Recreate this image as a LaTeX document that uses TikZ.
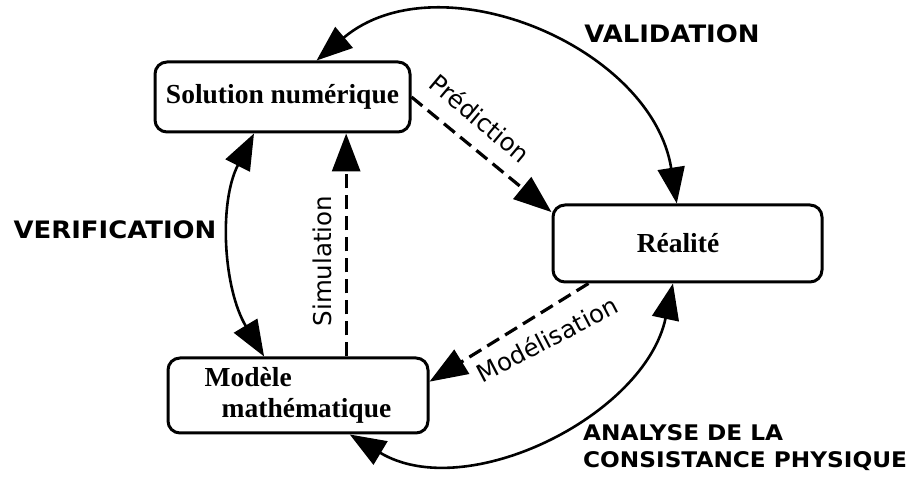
\documentclass[tikz,border=0pt]{standalone}
\usepackage{fontspec}
\setmainfont{Liberation Serif}
\newfontfamily\sansfont{DejaVu Sans}
\newfontfamily\sansw[FakeStretch=1.08]{DejaVu Sans}
\usetikzlibrary{arrows.meta,calc}
\tikzset{
  box/.style={draw, line width=3pt, rounded corners=12pt, inner sep=0pt,
    font=\bfseries\fontsize{27.5}{31}\selectfont},
  cyc/.style={line width=2.6pt,
    {Triangle[length=36pt,width=27pt]}-{Triangle[length=36pt,width=27pt]}},
  dasharrow/.style={line width=3.2pt, dash pattern=on 14pt off 7pt,
    -{Triangle[length=38pt,width=28pt]}},
  lbl/.style={font=\sansfont\fontsize{24.5}{28}\selectfont, inner sep=0pt},
  big/.style={font=\sansw\bfseries\fontsize{24}{27}\selectfont, inner sep=0pt},
}
\begin{document}
\begin{tikzpicture}[x=1pt,y=1pt]
\useasboundingbox (0,0) rectangle (914,481);
\node[box, minimum width=255pt, minimum height=70pt] (sol) at (282.5,384) {Solution numérique};
\node[box, minimum width=269pt, minimum height=77pt] (real) at (687.5,237.5) {\hspace*{-19pt}Réalité};
\node[box, minimum width=260pt, minimum height=75pt, align=left] (mod) at (298,85.5) {Modèle\\\hspace*{17pt}mathématique};

\draw[cyc] (sol.47) to[out=40,in=99,looseness=1.05] (real.105);
\draw[cyc] (sol.232) to[out=243,in=121,looseness=0.9] (mod.131);
\draw[cyc] (mod.-37) to[out=-31,in=258,looseness=0.97] (real.250);

\draw[dasharrow] (sol.east) -- (real.167);
\draw[dasharrow] (mod.39) -- (mod.39 |- sol.south);
\draw[dasharrow] (real.202) -- (mod.6);

\node[lbl, rotate=-40] (pred) at (480,363) {Prédiction};
\node[lbl, rotate=90] (simu) at (322,220) {Simulation};
\node[lbl, rotate=27.5] (modl) at (547,142) {Modélisation};
\node[big] (valid) at (672,447) {VALIDATION};
\node[big] (verif) at (115,251) {VERIFICATION};
\node[big, font=\sansw\bfseries\fontsize{21.5}{27}\selectfont, align=left, anchor=west] (anal) at (583,33) {ANALYSE DE LA\\CONSISTANCE PHYSIQUE};
\end{tikzpicture}
\end{document}
